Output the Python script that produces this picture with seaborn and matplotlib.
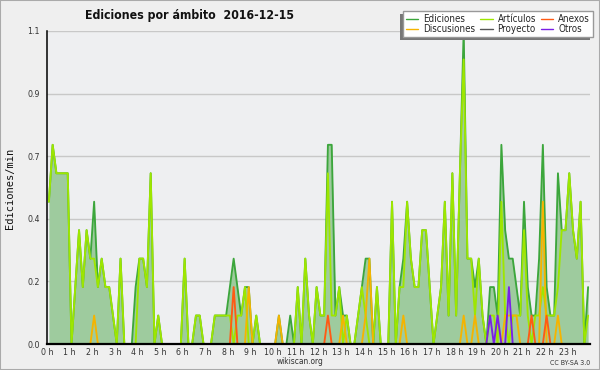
import numpy as np
import matplotlib
matplotlib.use("Agg")
import matplotlib.pyplot as plt
import seaborn as sns
from matplotlib.lines import Line2D
from matplotlib.patches import Rectangle
from matplotlib.ticker import MultipleLocator
from matplotlib.transforms import IdentityTransform

# Testi
title = "Ediciones por ámbito  2016-12-15"
ylabel = "Ediciones/min"
hour_labels = [f"{h} h" for h in range(24)]
ytick_vals = [0.0, 0.22, 0.44, 0.66, 0.88, 1.1]
ytick_labels = ["0.0", "0.2", "0.4", "0.7", "0.9", "1.1"]

# Ediciones/min per intervalli di 10 minuti (12 valori per riga = 2 ore)
ediciones = [
    0.5, 0.7, 0.6, 0.6, 0.6, 0.6, 0.0, 0.2, 0.4, 0.2, 0.4, 0.3,
    0.5, 0.2, 0.3, 0.2, 0.2, 0.1, 0.0, 0.3, 0.0, 0.0, 0.0, 0.2,
    0.3, 0.3, 0.2, 0.6, 0.0, 0.1, 0.0, 0.0, 0.0, 0.0, 0.0, 0.0,
    0.3, 0.0, 0.0, 0.1, 0.1, 0.0, 0.0, 0.0, 0.1, 0.1, 0.1, 0.1,
    0.2, 0.3, 0.2, 0.1, 0.2, 0.2, 0.0, 0.1, 0.0, 0.0, 0.0, 0.0,
    0.0, 0.1, 0.0, 0.0, 0.1, 0.0, 0.2, 0.0, 0.3, 0.1, 0.0, 0.2,
    0.1, 0.1, 0.7, 0.7, 0.1, 0.2, 0.1, 0.1, 0.0, 0.0, 0.1, 0.2,
    0.3, 0.3, 0.0, 0.2, 0.0, 0.0, 0.0, 0.5, 0.0, 0.2, 0.3, 0.5,
    0.3, 0.2, 0.2, 0.4, 0.4, 0.2, 0.0, 0.1, 0.2, 0.5, 0.1, 0.6,
    0.1, 0.6, 1.1, 0.3, 0.3, 0.2, 0.3, 0.1, 0.0, 0.2, 0.2, 0.1,
    0.7, 0.4, 0.3, 0.3, 0.2, 0.1, 0.5, 0.2, 0.1, 0.1, 0.3, 0.7,
    0.2, 0.1, 0.1, 0.6, 0.4, 0.4, 0.6, 0.4, 0.3, 0.5, 0.0, 0.2,
]
articulos = [
    0.5, 0.7, 0.6, 0.6, 0.6, 0.6, 0.0, 0.2, 0.4, 0.2, 0.4, 0.3,
    0.3, 0.2, 0.3, 0.2, 0.2, 0.1, 0.0, 0.3, 0.0, 0.0, 0.0, 0.0,
    0.3, 0.3, 0.2, 0.6, 0.0, 0.1, 0.0, 0.0, 0.0, 0.0, 0.0, 0.0,
    0.3, 0.0, 0.0, 0.1, 0.1, 0.0, 0.0, 0.0, 0.1, 0.1, 0.1, 0.1,
    0.1, 0.0, 0.1, 0.1, 0.2, 0.0, 0.0, 0.1, 0.0, 0.0, 0.0, 0.0,
    0.0, 0.0, 0.0, 0.0, 0.0, 0.0, 0.2, 0.0, 0.3, 0.1, 0.0, 0.2,
    0.1, 0.1, 0.6, 0.1, 0.1, 0.2, 0.0, 0.1, 0.0, 0.0, 0.1, 0.2,
    0.1, 0.0, 0.0, 0.2, 0.0, 0.0, 0.0, 0.5, 0.0, 0.2, 0.2, 0.5,
    0.3, 0.2, 0.2, 0.4, 0.4, 0.2, 0.0, 0.1, 0.2, 0.5, 0.1, 0.6,
    0.1, 0.6, 1.0, 0.3, 0.3, 0.1, 0.3, 0.1, 0.0, 0.1, 0.1, 0.0,
    0.5, 0.1, 0.0, 0.1, 0.1, 0.1, 0.4, 0.1, 0.0, 0.1, 0.1, 0.2,
    0.1, 0.1, 0.1, 0.2, 0.4, 0.4, 0.6, 0.4, 0.3, 0.5, 0.0, 0.1,
]
discusiones = [
    0.0, 0.0, 0.0, 0.0, 0.0, 0.0, 0.0, 0.0, 0.0, 0.0, 0.0, 0.0,
    0.1, 0.0, 0.0, 0.0, 0.0, 0.0, 0.0, 0.0, 0.0, 0.0, 0.0, 0.0,
    0.0, 0.0, 0.0, 0.0, 0.0, 0.0, 0.0, 0.0, 0.0, 0.0, 0.0, 0.0,
    0.0, 0.0, 0.0, 0.0, 0.0, 0.0, 0.0, 0.0, 0.0, 0.0, 0.0, 0.0,
    0.0, 0.0, 0.0, 0.0, 0.0, 0.2, 0.0, 0.0, 0.0, 0.0, 0.0, 0.0,
    0.0, 0.1, 0.0, 0.0, 0.0, 0.0, 0.0, 0.0, 0.0, 0.0, 0.0, 0.0,
    0.0, 0.0, 0.0, 0.0, 0.0, 0.0, 0.1, 0.0, 0.0, 0.0, 0.0, 0.0,
    0.1, 0.3, 0.0, 0.0, 0.0, 0.0, 0.0, 0.0, 0.0, 0.0, 0.1, 0.0,
    0.0, 0.0, 0.0, 0.0, 0.0, 0.0, 0.0, 0.0, 0.0, 0.0, 0.0, 0.0,
    0.0, 0.0, 0.1, 0.0, 0.0, 0.1, 0.0, 0.0, 0.0, 0.0, 0.0, 0.0,
    0.0, 0.1, 0.1, 0.1, 0.1, 0.0, 0.0, 0.0, 0.0, 0.0, 0.0, 0.5,
    0.0, 0.0, 0.0, 0.1, 0.0, 0.0, 0.0, 0.0, 0.0, 0.0, 0.0, 0.0,
]
anexos = [
    0.0, 0.0, 0.0, 0.0, 0.0, 0.0, 0.0, 0.0, 0.0, 0.0, 0.0, 0.0,
    0.0, 0.0, 0.0, 0.0, 0.0, 0.0, 0.0, 0.0, 0.0, 0.0, 0.0, 0.0,
    0.0, 0.0, 0.0, 0.0, 0.0, 0.0, 0.0, 0.0, 0.0, 0.0, 0.0, 0.0,
    0.0, 0.0, 0.0, 0.0, 0.0, 0.0, 0.0, 0.0, 0.0, 0.0, 0.0, 0.0,
    0.0, 0.2, 0.0, 0.0, 0.0, 0.0, 0.0, 0.0, 0.0, 0.0, 0.0, 0.0,
    0.0, 0.0, 0.0, 0.0, 0.0, 0.0, 0.0, 0.0, 0.0, 0.0, 0.0, 0.0,
    0.0, 0.0, 0.1, 0.0, 0.0, 0.0, 0.0, 0.0, 0.0, 0.0, 0.0, 0.0,
    0.0, 0.0, 0.0, 0.0, 0.0, 0.0, 0.0, 0.0, 0.0, 0.0, 0.0, 0.0,
    0.0, 0.0, 0.0, 0.0, 0.0, 0.0, 0.0, 0.0, 0.0, 0.0, 0.0, 0.0,
    0.0, 0.0, 0.0, 0.0, 0.0, 0.0, 0.0, 0.0, 0.0, 0.0, 0.0, 0.0,
    0.0, 0.0, 0.0, 0.0, 0.0, 0.0, 0.0, 0.0, 0.1, 0.0, 0.0, 0.0,
    0.1, 0.0, 0.0, 0.0, 0.0, 0.0, 0.0, 0.0, 0.0, 0.0, 0.0, 0.0,
]
otros = [
    0.0, 0.0, 0.0, 0.0, 0.0, 0.0, 0.0, 0.0, 0.0, 0.0, 0.0, 0.0,
    0.0, 0.0, 0.0, 0.0, 0.0, 0.0, 0.0, 0.0, 0.0, 0.0, 0.0, 0.0,
    0.0, 0.0, 0.0, 0.0, 0.0, 0.0, 0.0, 0.0, 0.0, 0.0, 0.0, 0.0,
    0.0, 0.0, 0.0, 0.0, 0.0, 0.0, 0.0, 0.0, 0.0, 0.0, 0.0, 0.0,
    0.0, 0.0, 0.0, 0.0, 0.0, 0.0, 0.0, 0.0, 0.0, 0.0, 0.0, 0.0,
    0.0, 0.0, 0.0, 0.0, 0.0, 0.0, 0.0, 0.0, 0.0, 0.0, 0.0, 0.0,
    0.0, 0.0, 0.0, 0.0, 0.0, 0.0, 0.0, 0.0, 0.0, 0.0, 0.0, 0.0,
    0.0, 0.0, 0.0, 0.0, 0.0, 0.0, 0.0, 0.0, 0.0, 0.0, 0.0, 0.0,
    0.0, 0.0, 0.0, 0.0, 0.0, 0.0, 0.0, 0.0, 0.0, 0.0, 0.0, 0.0,
    0.0, 0.0, 0.0, 0.0, 0.0, 0.0, 0.0, 0.0, 0.0, 0.1, 0.0, 0.1,
    0.0, 0.0, 0.2, 0.0, 0.0, 0.0, 0.0, 0.0, 0.0, 0.0, 0.0, 0.0,
    0.0, 0.0, 0.0, 0.0, 0.0, 0.0, 0.0, 0.0, 0.0, 0.0, 0.0, 0.0,
]

# Centri degli intervalli in ore
t = (np.arange(len(ediciones)) + 0.5) / 6

colors = {
    'Ediciones': '#3ca63c',
    'Discusiones': '#f5b400',
    'Artículos': '#9ee600',
    'Proyecto': '#555555',
    'Anexos': '#ff5a14',
    'Otros': '#7a1fe6',
}
fill_color = '#9ecb9e'

sns.set_style("white")
plt.rcParams['font.family'] = ['DejaVu Sans']
plt.rcParams['font.stretch'] = 'condensed'

fig = plt.figure(figsize=(6, 3.7), dpi=100, facecolor='#efefef')
ax = fig.add_axes([47 / 600, 1 - 344 / 370, 543 / 600, 313 / 370])
ax.set_facecolor('#eeeff1')

# Area totale + linee per ambito
ax.fill_between(t, ediciones, color=fill_color, lw=0, zorder=2)
series = [('Ediciones', ediciones), ('Artículos', articulos),
          ('Discusiones', discusiones), ('Anexos', anexos), ('Otros', otros)]
for z, (name, vals) in enumerate(series):
    sns.lineplot(x=t, y=vals, color=colors[name], lw=1.35, ax=ax,
                 estimator=None, zorder=3 + z)

# Assi
ax.set_xlim(0, 24)
ax.set_ylim(0, 1.1)
ax.set_xticks(range(24), hour_labels)
ax.xaxis.set_minor_locator(MultipleLocator(1 / 6))
ax.set_yticks(ytick_vals, ytick_labels)
ax.yaxis.set_minor_locator(MultipleLocator(0.055))
ax.tick_params(axis='x', which='both', direction='out', length=2.3, width=1,
               color='black', labelsize=6.3, labelcolor='#333333', pad=0.5)
ax.tick_params(axis='y', which='major', direction='out', length=3, width=1,
               color='black', labelsize=6.3, labelcolor='#333333', pad=2)
ax.tick_params(axis='y', which='minor', direction='out', length=1.6, width=1,
               color='black')
ax.set_xlabel('')
ax.set_ylabel('')

ax.yaxis.grid(True, color='#c8c8c8', lw=1)
ax.xaxis.grid(False)
ax.set_axisbelow(True)
for s in ['top', 'right']:
    ax.spines[s].set_visible(False)
ax.spines['left'].set_color('black')
ax.spines['left'].set_linewidth(1.1)
ax.spines['bottom'].set_color('black')
ax.spines['bottom'].set_linewidth(1.6)
ax.spines['bottom'].set_zorder(20)

# Titolo, etichette, piè di pagina
fig.text(85 / 600, 1 - 15 / 370, title, fontsize=8.8, fontweight='bold',
         ha='left', va='center', color='#111111')
fig.text(10 / 600, 1 - 188 / 370, ylabel, rotation=90, fontsize=7.5,
         family='DejaVu Sans Mono', ha='center', va='center', color='#111111')
fig.text(300 / 600, 1 - 362 / 370, "wikiscan.org", fontsize=6,
         ha='center', va='center', color='#333333')
fig.text(590 / 600, 1 - 363 / 370, "CC BY-SA 3.0", fontsize=5,
         ha='right', va='center', color='#333333')

# Legenda
order = ['Ediciones', 'Discusiones', 'Artículos', 'Proyecto', 'Anexos', 'Otros']
handles = [Line2D([], [], color=colors[n], lw=1) for n in order]
leg = fig.legend(handles, order, ncol=3, loc='upper right',
                 bbox_to_anchor=(593 / 600, 1 - 11 / 370),
                 bbox_transform=fig.transFigure, fontsize=7, frameon=True,
                 fancybox=False, edgecolor='#999999', facecolor='white',
                 framealpha=1, handlelength=1.3, handletextpad=0.5,
                 columnspacing=0.5, labelspacing=0.0, borderpad=0.3,
                 borderaxespad=0)
leg.get_frame().set_linewidth(1)

# Ombra della legenda (spostata in basso a sinistra)
fig.canvas.draw()
bb = leg.get_window_extent()
fig.patches.append(Rectangle((bb.x0 - 3, bb.y0 - 3), bb.width, bb.height,
                             transform=IdentityTransform(), facecolor='#777777',
                             edgecolor='none', zorder=4))

# Bordo esterno
fig.patches.append(Rectangle((0, 0), 1, 1, transform=fig.transFigure,
                             fill=False, edgecolor='#aaaaaa', lw=1.5, zorder=10))

fig.savefig("out.png", dpi=100, facecolor=fig.get_facecolor())
